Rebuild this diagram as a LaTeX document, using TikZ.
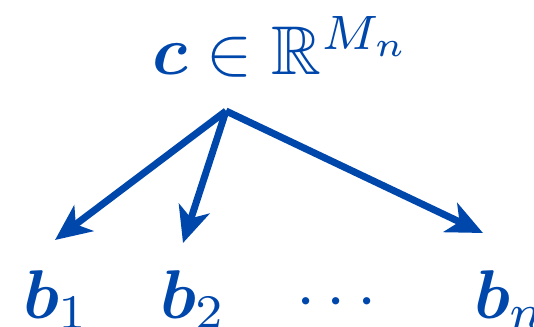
\documentclass[tikz,border=0pt]{standalone}
\usepackage{amsmath,amssymb,bm}
\usetikzlibrary{arrows.meta}
\definecolor{dblue}{RGB}{0,71,171}
\tikzset{
  lbl/.style={inner sep=0pt, outer sep=0pt, anchor=base west, scale=6.9, text=dblue},
  conn/.style={draw=dblue, line width=7pt, -{Stealth[length=36pt, width=32pt, inset=10pt]}}
}
\begin{document}
\begin{tikzpicture}[x=1pt,y=-1pt]
\useasboundingbox (0,0) rectangle (534,326);
\clip (0,0) rectangle (534,326);
\node[lbl] (c) at (152,75) {$\bm{c}\in\mathbb{R}^{M_n}$};
\node[lbl] (b1) at (23,318) {$\bm{b}_1$};
\node[lbl] (b2) at (160,318) {$\bm{b}_2$};
\node[lbl, anchor=base] (dots) at (342,318) {$\cdots$};
\node[lbl] (bn) at (474,318) {$\bm{b}_n$};
\coordinate (apex) at (226,111);
\coordinate (t1) at (55,240);
\coordinate (t2) at (183,243);
\coordinate (tn) at (483,233);
\draw[conn] (apex) -- (t1);
\draw[conn] (apex) -- (t2);
\draw[conn] (apex) -- (tn);
\end{tikzpicture}
\end{document}
